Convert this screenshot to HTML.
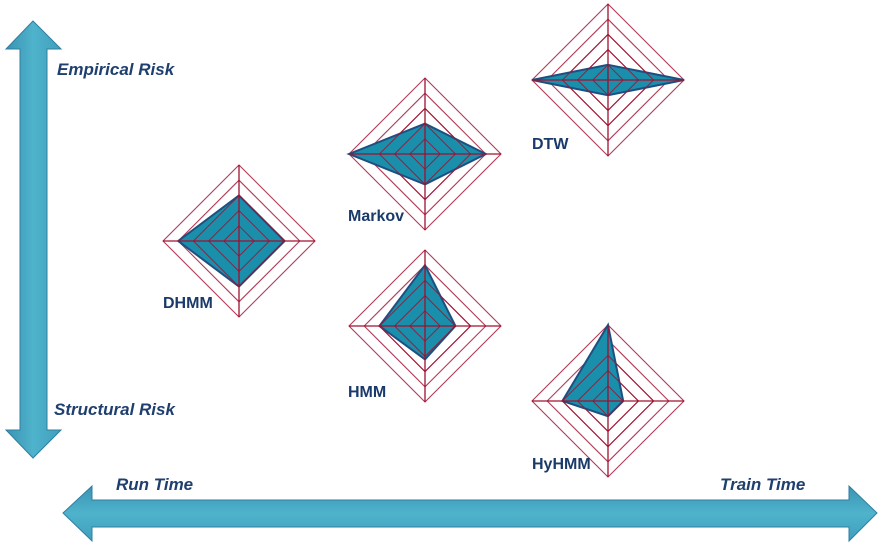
<!DOCTYPE html>
<html><head><meta charset="utf-8">
<style>
body{margin:0;background:#fff;width:891px;height:549px;overflow:hidden;font-family:"Liberation Sans",sans-serif}
svg{display:block}
</style></head>
<body>
<svg id="chart" width="891" height="549" xmlns="http://www.w3.org/2000/svg">
<defs>
<linearGradient id="gv" x1="0" x2="1" y1="0" y2="0"><stop offset="0" stop-color="#3a93b3"/><stop offset="0.5" stop-color="#4fb3cc"/><stop offset="1" stop-color="#3f9fbd"/></linearGradient>
<linearGradient id="gh" x1="0" x2="0" y1="0" y2="1"><stop offset="0" stop-color="#3a93b3"/><stop offset="0.5" stop-color="#4fb3cc"/><stop offset="1" stop-color="#3f9fbd"/></linearGradient>
</defs>
<polygon fill="url(#gv)" stroke="#2f7fa0" stroke-width="1" points="33,21 61,49 47,49 47,430 61,430 33,458 6,430 20,430 20,49 6,49"/>
<polygon fill="url(#gh)" stroke="#2f7fa0" stroke-width="1" points="63,513 92,486 92,500 849,500 849,486 877,513 849,541 849,527 92,527 92,541"/>
<g font-style="italic" font-weight="bold" font-size="17" fill="#1f3f6e">
<text x="57" y="75">Empirical Risk</text>
<text x="54" y="415">Structural Risk</text>
<text x="116" y="490">Run Time</text>
<text x="720" y="490">Train Time</text>
</g>
<g id="radars"></g>
</svg>
<script>
// order: top, right, bottom, left (fraction of max)
const models = ["DHMM","Markov","DTW","HMM","HyHMM"];
const topVals = [0.6,0.4,0.2,0.8,1.0];
const rightVals = [0.6,0.8,1.0,0.4,0.2];
const bottomVals = [0.6,0.4,0.2,0.44,0.2];
const leftVals = [0.8,1.0,1.0,0.6,0.6];
const centersX = [239,425,608,425,608];
const centersY = [241,154,80,326,401];
const labelPos = [[163,308],[348,221],[532,149],[348,397],[532,469]];
const R = 76, rings = 5;
const NS = "http://www.w3.org/2000/svg";
const g = document.getElementById('radars');
function mk(t, a){const e=document.createElementNS(NS,t);for(const k in a)e.setAttribute(k,a[k]);return e;}
models.forEach((m,i)=>{
  const cx=centersX[i], cy=centersY[i];
  const grp=mk('g',{});
  
  
  for(let r=1;r<=rings;r++){
    const rr=R*r/rings;
    const ring=mk('polygon',{points:`${cx},${cy-rr} ${cx+rr},${cy} ${cx},${cy+rr} ${cx-rr},${cy}`,fill:'none',stroke:r>=4?'#b23a58':'#a0102f','stroke-width':1.1});
    
    
    grp.appendChild(ring);
  }
  const shape=mk('polygon',{points:`${cx},${cy-R*topVals[i]} ${cx+R*rightVals[i]},${cy} ${cx},${cy+R*bottomVals[i]} ${cx-R*leftVals[i]},${cy}`,fill:'#1a8fab',stroke:'#1f4f80','stroke-width':2});
  
  
  grp.appendChild(shape);
  for(let r=1;r<=3;r++){
    const rr=R*r/rings;
    const ring=mk('polygon',{points:`${cx},${cy-rr} ${cx+rr},${cy} ${cx},${cy+rr} ${cx-rr},${cy}`,fill:'none',stroke:'#a0102f','stroke-width':1,opacity:0.85});
    
    
    grp.appendChild(ring);
  }
  const ax=mk('path',{d:`M${cx},${cy-R}V${cy+R}M${cx-R},${cy}H${cx+R}`,stroke:'#a0102f','stroke-width':1.3});
  
  
  grp.appendChild(ax);
  const t=mk('text',{x:labelPos[i][0],y:labelPos[i][1],'font-weight':'bold','font-size':16,fill:'#1a3a6a'});
  t.textContent=m;
  
  
  grp.appendChild(t);
  g.appendChild(grp);
});
</script>
</body></html>
